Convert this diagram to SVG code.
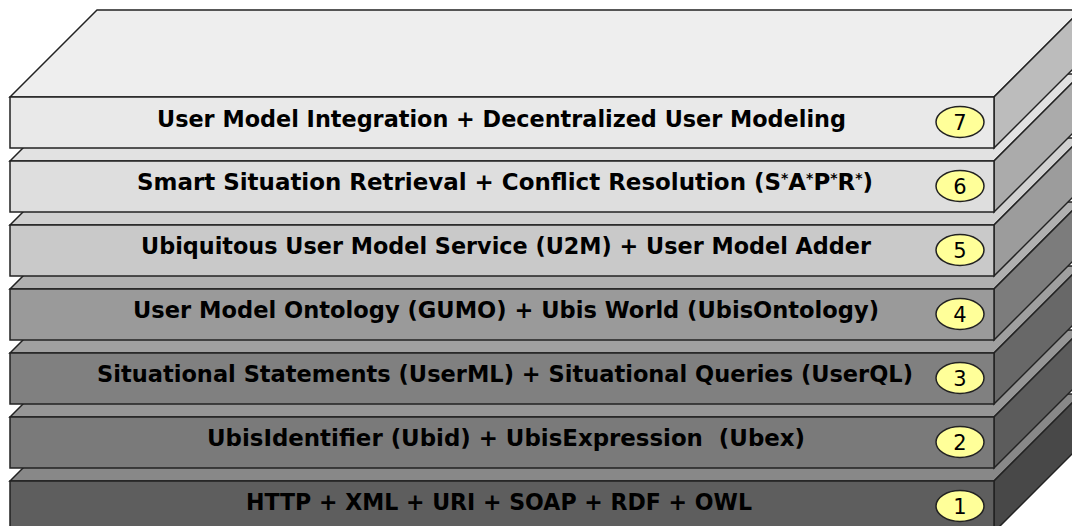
<svg xmlns="http://www.w3.org/2000/svg" width="1072" height="526" viewBox="0 0 1072 526">
<style>
  .e { stroke: #222; stroke-width: 1.5; stroke-linejoin: miter; }
  .lbl { font-family: "DejaVu Sans", "Liberation Sans", sans-serif; font-weight: bold; font-size: 23px; fill: #000; }
  .sup { font-size: 14px; }
  .badge { fill: #ffff99; stroke: #222; stroke-width: 1.5; }
  .num { font-family: "DejaVu Sans", "Liberation Sans", sans-serif; font-size: 21px; fill: #000; text-anchor: middle; }
</style>
<rect width="1072" height="526" fill="#ffffff"/>

<g id="layer1">
  <polygon class="e" fill="#888888" points="10,481 97,394 1081,394 994,481"/>
  <polygon class="e" fill="#484848" points="994,481 1081,394 1081,445 994,532"/>
  <rect class="e" fill="#5e5e5e" x="10" y="481" width="984" height="51"/>
  <text class="lbl" x="246" y="510" textLength="506" lengthAdjust="spacingAndGlyphs">HTTP + XML + URI + SOAP + RDF + OWL</text>
  <ellipse class="badge" cx="960" cy="506" rx="24" ry="15.5"/>
  <text class="num" x="960" y="514">1</text>
</g>

<g id="layer2">
  <polygon class="e" fill="#969696" points="10,417 97,330 1081,330 994,417"/>
  <polygon class="e" fill="#5c5c5c" points="994,417 1081,330 1081,381 994,468"/>
  <rect class="e" fill="#7a7a7a" x="10" y="417" width="984" height="51"/>
  <text class="lbl" x="207" y="446" textLength="598" lengthAdjust="spacingAndGlyphs" xml:space="preserve">UbisIdentifier (Ubid) + UbisExpression  (Ubex)</text>
  <ellipse class="badge" cx="960" cy="442" rx="24" ry="15.5"/>
  <text class="num" x="960" y="450">2</text>
</g>

<g id="layer3">
  <polygon class="e" fill="#a0a0a0" points="10,353 97,266 1081,266 994,353"/>
  <polygon class="e" fill="#686868" points="994,353 1081,266 1081,317 994,404"/>
  <rect class="e" fill="#808080" x="10" y="353" width="984" height="51"/>
  <text class="lbl" x="97" y="382" textLength="816" lengthAdjust="spacingAndGlyphs">Situational Statements (UserML) + Situational Queries (UserQL)</text>
  <ellipse class="badge" cx="960" cy="378" rx="24" ry="15.5"/>
  <text class="num" x="960" y="386">3</text>
</g>

<g id="layer4">
  <polygon class="e" fill="#b0b0b0" points="10,289 97,202 1081,202 994,289"/>
  <polygon class="e" fill="#7c7c7c" points="994,289 1081,202 1081,253 994,340"/>
  <rect class="e" fill="#9a9a9a" x="10" y="289" width="984" height="51"/>
  <text class="lbl" x="133" y="318" textLength="746" lengthAdjust="spacingAndGlyphs">User Model Ontology (GUMO) + Ubis World (UbisOntology)</text>
  <ellipse class="badge" cx="960" cy="314" rx="24" ry="15.5"/>
  <text class="num" x="960" y="322">4</text>
</g>

<g id="layer5">
  <polygon class="e" fill="#d0d0d0" points="10,225 97,138 1081,138 994,225"/>
  <polygon class="e" fill="#9c9c9c" points="994,225 1081,138 1081,189 994,276"/>
  <rect class="e" fill="#c9c9c9" x="10" y="225" width="984" height="51"/>
  <text class="lbl" x="141" y="254" textLength="730" lengthAdjust="spacingAndGlyphs">Ubiquitous User Model Service (U2M) + User Model Adder</text>
  <ellipse class="badge" cx="960" cy="250" rx="24" ry="15.5"/>
  <text class="num" x="960" y="258">5</text>
</g>

<g id="layer6">
  <polygon class="e" fill="#e2e2e2" points="10,161 97,74 1081,74 994,161"/>
  <polygon class="e" fill="#ababab" points="994,161 1081,74 1081,125 994,212"/>
  <rect class="e" fill="#dedede" x="10" y="161" width="984" height="51"/>
  <text class="lbl" x="137" y="190" textLength="736" lengthAdjust="spacingAndGlyphs">Smart Situation Retrieval + Conflict Resolution (S<tspan class="sup" dy="-7">*</tspan><tspan dy="7">A</tspan><tspan class="sup" dy="-7">*</tspan><tspan dy="7">P</tspan><tspan class="sup" dy="-7">*</tspan><tspan dy="7">R</tspan><tspan class="sup" dy="-7">*</tspan><tspan dy="7">)</tspan></text>
  <ellipse class="badge" cx="960" cy="186" rx="24" ry="15.5"/>
  <text class="num" x="960" y="194">6</text>
</g>

<g id="layer7">
  <polygon class="e" fill="#eeeeee" points="10,97 97,10 1081,10 994,97"/>
  <polygon class="e" fill="#bcbcbc" points="994,97 1081,10 1081,61 994,148"/>
  <rect class="e" fill="#e9e9e9" x="10" y="97" width="984" height="51"/>
  <text class="lbl" x="157" y="127" textLength="689" lengthAdjust="spacingAndGlyphs">User Model Integration + Decentralized User Modeling</text>
  <ellipse class="badge" cx="960" cy="122" rx="24" ry="15.5"/>
  <text class="num" x="960" y="130">7</text>
</g>

<g id="connectors"/>
</svg>
